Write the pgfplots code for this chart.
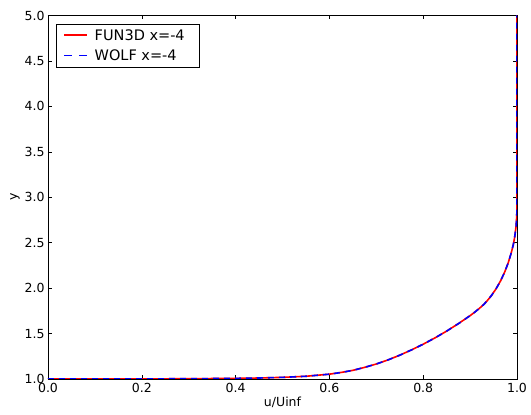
\documentclass[border=0pt]{standalone}
\usepackage{fontspec}
\setmainfont{DejaVu Sans}
\usepackage{pgfplots}
\pgfplotsset{compat=1.18}
\pgfplotstableread{
x y
0 1.0
0.1 1.0005
0.2 1.001
0.3 1.003
0.4 1.007
0.45 1.011
0.5 1.018
0.55 1.030
0.6 1.053
0.625 1.072
0.65 1.095
0.675 1.128
0.7 1.165
0.725 1.21
0.75 1.262
0.775 1.32
0.8 1.383
0.825 1.452
0.85 1.527
0.875 1.609
0.9 1.697
0.91 1.736
0.92 1.778
0.928 1.815
0.935 1.852
0.945 1.915
0.955 1.99
0.965 2.08
0.974 2.18
0.981 2.275
0.987 2.375
0.992 2.475
0.995 2.56
0.998 2.68
0.9995 2.8
1.0 2.95
1.0 5.0
}\datafun
\pgfplotstableread{
x y
0 1.0
0.1 1.0005
0.2 1.001
0.3 1.003
0.4 1.007
0.45 1.011
0.5 1.018
0.55 1.030
0.6 1.053
0.625 1.072
0.65 1.095
0.675 1.128
0.7 1.165
0.725 1.21
0.75 1.262
0.775 1.32
0.8 1.383
0.825 1.452
0.85 1.527
0.875 1.609
0.9 1.697
0.91 1.736
0.92 1.778
0.928 1.815
0.935 1.852
0.945 1.915
0.955 1.99
0.965 2.08
0.974 2.18
0.981 2.275
0.987 2.375
0.992 2.475
0.995 2.56
0.998 2.68
0.9995 2.8
1.0 2.95
1.0 5.0
}\datawolf
\begin{document}
\begin{tikzpicture}
\begin{axis}[
  scale only axis,
  width=469pt, height=363.5pt,
  xmin=0, xmax=1, ymin=1, ymax=5,
  xtick={0,0.2,...,1.0},
  ytick={1,1.5,...,5},
  /pgf/number format/assume math mode=true,
  xticklabel style={yshift=-1pt,/pgf/number format/.cd,fixed,fixed zerofill,precision=1},
  yticklabel style={/pgf/number format/.cd,fixed,fixed zerofill,precision=1},
  tick label style={font=\fontsize{12.5}{14}\selectfont},
  label style={font=\fontsize{12.5}{14}\selectfont},
  tick align=inside,
  major tick length=4pt,
  tick style={black, line width=0.6pt},
  axis line style={line width=0.8pt},
  minor tick num=0,
  xlabel={u/Uinf}, ylabel={y},
  xlabel style={yshift=3pt},
  ylabel style={yshift=-2pt},
  legend style={at={(0.017,0.977)}, anchor=north west, draw=black,
    font=\fontsize{14.5}{17}\selectfont, row sep=4pt, inner xsep=7pt, inner ysep=3.5pt,
    nodes={inner xsep=7pt}},
  legend cell align=left,
  legend image code/.code={\draw[#1, line width=1.8pt] (0cm,0.5pt) -- (0.8cm,0.5pt);},
]
\addplot[color=red, line width=1.6pt, line join=round] table {\datafun};
\addlegendentry{FUN3D x=-4}
\addplot[color=blue, line width=1.6pt, line join=round, dash pattern=on 6pt off 5pt,
  legend image code/.code={\draw[blue, line width=1.8pt, dash pattern=on 8pt off 7pt] (0cm,0.5pt) -- (0.8cm,0.5pt);}] table {\datawolf};
\addlegendentry{WOLF x=-4}
\end{axis}
\pgfresetboundingbox
\path ([shift={(-48pt,-36pt)}]current axis.south west) rectangle ([shift={(14pt,15.5pt)}]current axis.north east);
\end{tikzpicture}
\end{document}
